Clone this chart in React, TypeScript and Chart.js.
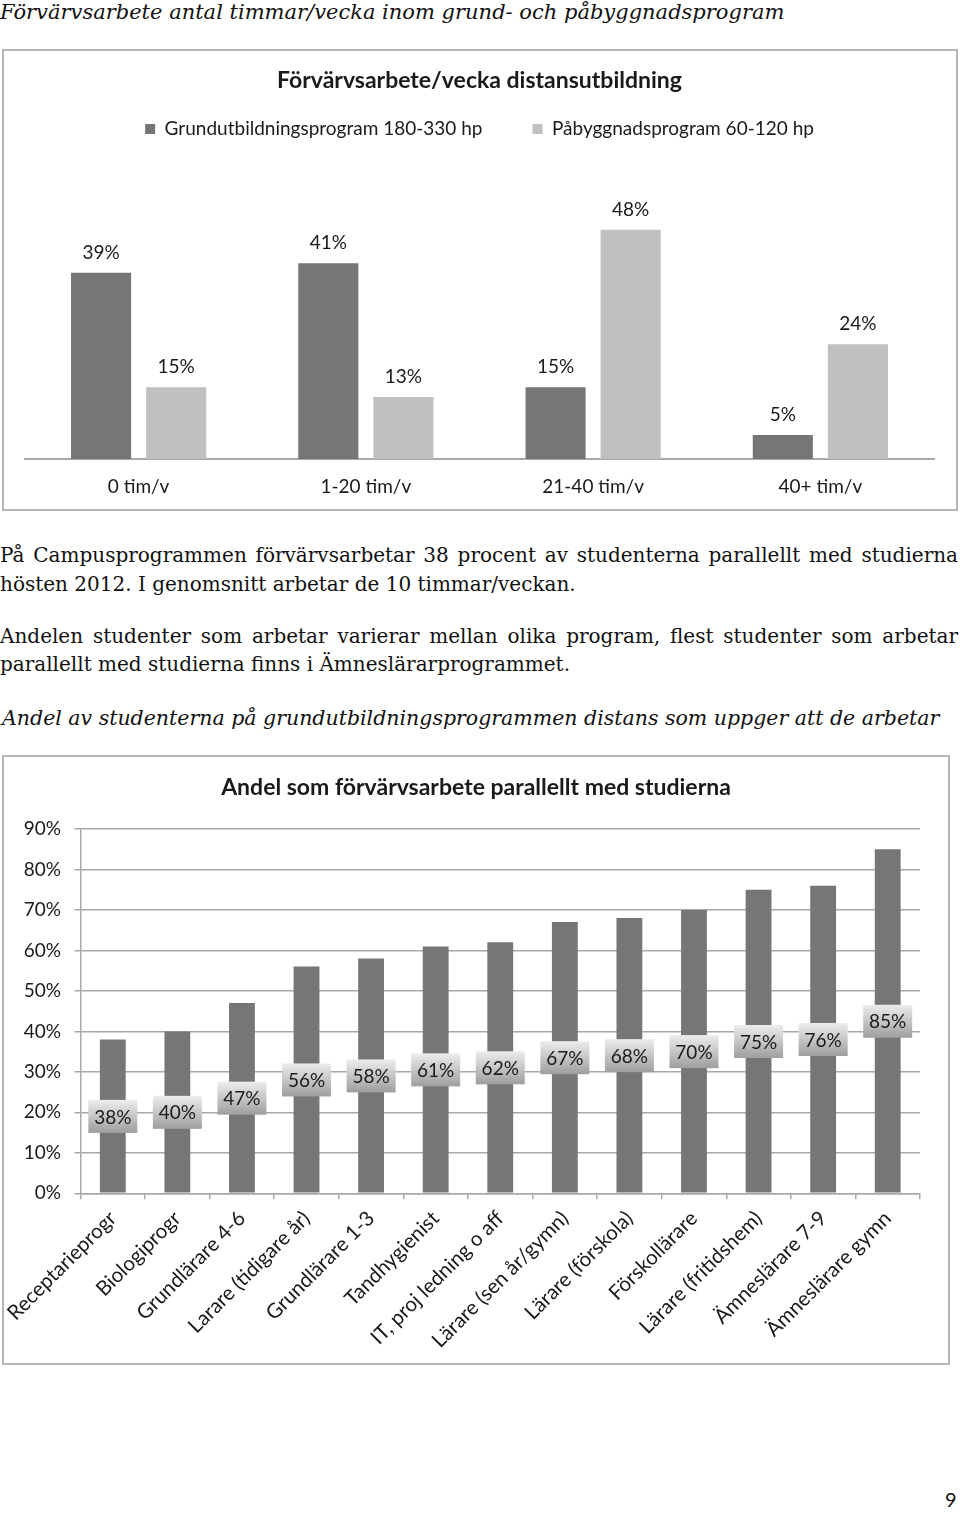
import React, { useEffect, useRef } from "react";
import { Chart, registerables } from "chart.js";

Chart.register(...registerables);

// ---- Chart 1 data ----
const hourCategories = ["0 tim/v", "1-20 tim/v", "21-40 tim/v", "40+ tim/v"];
const grundValues = [39, 41, 15, 5];
const pabyggValues = [15, 13, 48, 24];
const seriesNames = ["Grundutbildningsprogram 180-330 hp", "Påbyggnadsprogram 60-120 hp"];

// ---- Chart 2 data ----
const programs = [
  "Receptarieprogr",
  "Biologiprogr",
  "Grundlärare 4-6",
  "Larare (tidigare år)",
  "Grundlärare 1-3",
  "Tandhygienist",
  "IT, proj ledning o aff",
  "Lärare (sen år/gymn)",
  "Lärare (förskola)",
  "Förskollärare",
  "Lärare (fritidshem)",
  "Ämneslärare 7-9",
  "Ämneslärare gymn",
];
const workShare = [38, 40, 47, 56, 58, 61, 62, 67, 68, 70, 75, 76, 85];
const shareTickLabels = ["0%", "10%", "20%", "30%", "40%", "50%", "60%", "70%", "80%", "90%"];

const SANS = "Lato";
const SERIF = "'DejaVu Serif', serif";
const GRID = "#a8a8a8";
const TEXT = "#1a1a1a";

const topValueLabels = {
  id: "topValueLabels",
  afterDatasetsDraw(chart: any) {
    const ctx = chart.ctx;
    ctx.save();
    ctx.font = `19px ${SANS}`;
    ctx.fillStyle = TEXT;
    ctx.textAlign = "center";
    ctx.textBaseline = "middle";
    chart.data.datasets.forEach((ds: any, i: number) => {
      const meta = chart.getDatasetMeta(i);
      meta.data.forEach((el: any, j: number) => {
        ctx.fillText(ds.data[j] + "%", el.x, el.y - 20);
      });
    });
    ctx.restore();
  },
};

const boxedMidLabels = {
  id: "boxedMidLabels",
  afterDatasetsDraw(chart: any) {
    const ctx = chart.ctx;
    const yScale = chart.scales.y;
    const ds = chart.data.datasets[0];
    const meta = chart.getDatasetMeta(0);
    ctx.save();
    ctx.font = `19px ${SANS}`;
    ctx.textAlign = "center";
    ctx.textBaseline = "middle";
    meta.data.forEach((el: any, j: number) => {
      const v = ds.data[j];
      const cy = yScale.getPixelForValue(v / 2);
      const w = 49;
      const h = 33;
      const g = ctx.createLinearGradient(0, cy - h / 2, 0, cy + h / 2);
      g.addColorStop(0, "#ededed");
      g.addColorStop(1, "#9e9e9e");
      ctx.fillStyle = g;
      ctx.fillRect(el.x - w / 2, cy - h / 2, w, h);
      ctx.fillStyle = TEXT;
      ctx.fillText(v + "%", el.x, cy + 1);
    });
    ctx.restore();
  },
};

function HoursChart() {
  const ref = useRef<HTMLCanvasElement | null>(null);
  useEffect(() => {
    if (!ref.current) return;
    const chart = new Chart(ref.current, {
      type: "bar",
      data: {
        labels: hourCategories,
        datasets: [
          {
            label: seriesNames[0],
            data: grundValues,
            backgroundColor: "#767676",
            categoryPercentage: 0.661,
            barPercentage: 0.8,
          },
          {
            label: seriesNames[1],
            data: pabyggValues,
            backgroundColor: "#c0c0c0",
            categoryPercentage: 0.661,
            barPercentage: 0.8,
          },
        ],
      },
      options: {
        animation: false,
        responsive: false,
        layout: { padding: { left: 21, right: 22, top: 0, bottom: 0 } },
        plugins: {
          title: {
            display: true,
            text: "Förvärvsarbete/vecka distansutbildning",
            font: { family: SANS, size: 23, weight: "bold" },
            color: TEXT,
            padding: { top: 16, bottom: -25.1 },
          },
          legend: {
            display: true,
            position: "top",
            labels: {
              boxWidth: 10,
              boxHeight: 10,
              padding: 50,
              font: { family: SANS, size: 19 },
              color: TEXT,
            },
          },
          tooltip: { enabled: false },
        },
        scales: {
          x: {
            grid: { display: false, drawTicks: false },
            border: { display: true, color: GRID, width: 2 },
            ticks: { font: { family: SANS, size: 19 }, color: TEXT, padding: 16 },
            afterFit: (s: any) => {
              s.height = 50;
            },
          },
          y: { display: false, min: 0, max: 65 },
        },
      } as any,
      plugins: [topValueLabels],
    });
    return () => chart.destroy();
  }, []);
  return <canvas ref={ref} width={952} height={458} style={{ display: "block" }} />;
}

function ShareChart() {
  const ref = useRef<HTMLCanvasElement | null>(null);
  useEffect(() => {
    if (!ref.current) return;
    const chart = new Chart(ref.current, {
      type: "bar",
      data: {
        labels: programs,
        datasets: [
          {
            label: "Andel",
            data: workShare,
            backgroundColor: "#767676",
            categoryPercentage: 1,
            barPercentage: 0.4,
          },
        ],
      },
      options: {
        animation: false,
        responsive: false,
        layout: { padding: { left: 0, right: 0, top: 0, bottom: 0 } },
        plugins: {
          title: {
            display: true,
            text: "Andel som förvärvsarbete parallellt med studierna",
            font: { family: SANS, size: 23, weight: "bold" },
            color: TEXT,
            padding: { top: 16.5, bottom: 27.9 },
          },
          legend: { display: false },
          tooltip: { enabled: false },
        },
        scales: {
          x: {
            grid: {
              display: true,
              drawOnChartArea: false,
              drawTicks: true,
              tickLength: 6,
              color: GRID,
              lineWidth: 1.5,
              offset: true,
            },
            border: { display: true, color: GRID, width: 1.5 },
            ticks: {
              minRotation: 45,
              maxRotation: 45,
              autoSkip: false,
              font: { family: SANS, size: 20.5 },
              color: TEXT,
              padding: 7,
            },
            afterFit: (s: any) => {
              s.height = 169.7;
              s.paddingLeft = 0;
              s.paddingRight = 0;
            },
          },
          y: {
            min: 0,
            max: 90,
            ticks: {
              stepSize: 10,
              font: { family: SANS, size: 19 },
              color: TEXT,
              padding: 13.5,
              callback: (_v: any, i: number) => shareTickLabels[i],
            },
            grid: { color: GRID, lineWidth: 1.5, drawTicks: true, tickLength: 6 },
            border: { display: true, color: GRID, width: 1.5 },
            afterFit: (s: any) => {
              s.width = 76.5;
            },
          },
          yRight: {
            position: "right",
            display: true,
            min: 0,
            max: 90,
            grid: { display: false, drawTicks: false },
            border: { display: false },
            ticks: { display: false },
            afterFit: (s: any) => {
              s.width = 28;
            },
          },
        },
      } as any,
      plugins: [boxedMidLabels],
    });
    return () => chart.destroy();
  }, []);
  return <canvas ref={ref} width={944} height={606} style={{ display: "block" }} />;
}

const lineBase: React.CSSProperties = {
  position: "absolute",
  left: 0,
  fontFamily: SERIF,
  fontSize: 20,
  lineHeight: "24px",
  color: "#111",
  whiteSpace: "nowrap",
};

export default function App() {
  return (
    <div style={{ position: "relative", width: 960, height: 1513, background: "#fff", overflow: "hidden" }}>
      <style>{"body{margin:0}"}</style>
      <div style={{ ...lineBase, top: 0, fontStyle: "italic", fontSize: 21 }}>
        Förvärvsarbete antal timmar/vecka inom grund- och påbyggnadsprogram
      </div>

      <div
        style={{
          position: "absolute",
          left: 2,
          top: 49,
          width: 956,
          height: 462,
          border: "2px solid #b4b4b4",
          boxSizing: "border-box",
        }}
      >
        <HoursChart />
      </div>

      <div style={{ ...lineBase, top: 543, width: 958, textAlign: "justify", textAlignLast: "justify" }}>
        På Campusprogrammen förvärvsarbetar 38 procent av studenterna parallellt med studierna
      </div>
      <div style={{ ...lineBase, top: 572 }}>hösten 2012. I genomsnitt arbetar de 10 timmar/veckan.</div>
      <div style={{ ...lineBase, top: 624, width: 958, textAlign: "justify", textAlignLast: "justify" }}>
        Andelen studenter som arbetar varierar mellan olika program, flest studenter som arbetar
      </div>
      <div style={{ ...lineBase, top: 652 }}>parallellt med studierna finns i Ämneslärarprogrammet.</div>
      <div style={{ ...lineBase, top: 706, left: 2, fontStyle: "italic", fontSize: 20.5 }}>
        Andel av studenterna på grundutbildningsprogrammen distans som uppger att de arbetar
      </div>

      <div
        style={{
          position: "absolute",
          left: 2,
          top: 755,
          width: 948,
          height: 610,
          border: "2px solid #b4b4b4",
          boxSizing: "border-box",
        }}
      >
        <ShareChart />
      </div>

      <div
        style={{
          position: "absolute",
          left: 945,
          top: 1487,
          fontFamily: SANS,
          fontSize: 20,
          lineHeight: "24px",
          color: "#111",
        }}
      >
        9
      </div>
    </div>
  );
}
